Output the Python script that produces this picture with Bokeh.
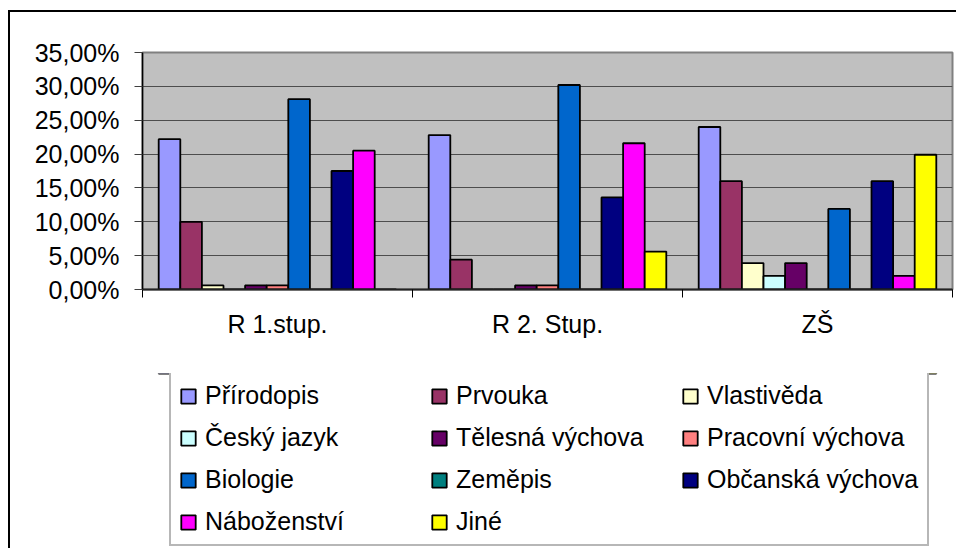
from bokeh.plotting import figure
from bokeh.layouts import column
from bokeh.models import (Range1d, FixedTicker, CustomJSTickFormatter,
                          Legend, LegendItem, ColumnDataSource, LinearAxis, Grid)
from bokeh.embed import file_html
from bokeh.resources import INLINE

# ---- data (percent) ----
categories = ["R 1.stup.", "R 2. Stup.", "ZŠ"]
series_names = ["Přírodopis", "Prvouka", "Vlastivěda", "Český jazyk", "Tělesná výchova",
                "Pracovní výchova", "Biologie", "Zeměpis", "Občanská výchova", "Náboženství", "Jiné"]
series_colors = ["#9999FF", "#993366", "#FFFFCC", "#CCFFFF", "#660066",
                 "#FF8080", "#0066CC", "#008080", "#000080", "#FF00FF", "#FFFF00"]
prirodopis = [22.2, 22.8, 24.0]
prvouka = [10.0, 4.4, 16.0]
vlastiveda = [0.6, 0.0, 3.9]
cesky_jazyk = [0.0, 0.0, 2.0]
telesna_vychova = [0.6, 0.6, 3.9]
pracovni_vychova = [0.6, 0.6, 0.0]
biologie = [28.1, 30.2, 11.9]
zemepis = [0.0, 0.0, 0.0]
obcanska_vychova = [17.5, 13.6, 16.0]
nabozenstvi = [20.5, 21.6, 2.0]
jine = [0.0, 5.6, 19.9]
series_values = [prirodopis, prvouka, vlastiveda, cesky_jazyk, telesna_vychova,
                 pracovni_vychova, biologie, zemepis, obcanska_vychova, nabozenstvi, jine]
y_ticks = [0, 5, 10, 15, 20, 25, 30, 35]

FONT = "Liberation Sans"
FS = "25px"

ncat = len(categories)
nser = len(series_names)
gap = 1.5  # Excel gap width 150%
bw = 1.0 / (nser + gap)

# ---------------- chart ----------------
p = figure(width=946, height=361, output_backend="svg", toolbar_location=None,
           x_range=Range1d(0, ncat), y_range=Range1d(y_ticks[0], y_ticks[-1]),
           x_axis_type=None, y_axis_type=None,
           min_border_left=132, min_border_right=4, min_border_top=40, min_border_bottom=84,
           background_fill_color="#C0C0C0", border_fill_color="white")
p.outline_line_color = "#808080"
p.outline_line_width = 2

yax = LinearAxis(ticker=FixedTicker(ticks=y_ticks, minor_ticks=[]),
                 formatter=CustomJSTickFormatter(code="return tick.toFixed(2).replace('.', ',') + '%';"))
yax.axis_line_color = "black"
yax.axis_line_width = 1.5
yax.major_tick_line_color = "#404040"
yax.major_tick_out = 8
yax.major_tick_in = 0
yax.minor_tick_line_color = None
yax.major_label_standoff = 15
yax.major_label_text_font = FONT
yax.major_label_text_font_size = FS
yax.major_label_text_color = "black"
p.add_layout(yax, "left")
p.add_layout(Grid(dimension=1, ticker=yax.ticker, grid_line_color="#4d4d4d", grid_line_width=1.2))

# x axis: labels at group centres, tick marks at group boundaries
centers = [i + 0.5 for i in range(ncat)]
xax = LinearAxis(ticker=FixedTicker(ticks=centers, minor_ticks=list(range(ncat + 1))),
                 major_label_overrides={c: lab for c, lab in zip(centers, categories)})
xax.axis_line_color = "#222222"
xax.axis_line_width = 2
xax.major_tick_line_color = None
xax.major_tick_out = 8
xax.minor_tick_out = 8
xax.minor_tick_in = 0
xax.minor_tick_line_color = "black"
xax.minor_tick_line_width = 1
xax.major_label_standoff = 12
xax.major_label_text_font = FONT
xax.major_label_text_font_size = FS
xax.major_label_text_color = "black"
p.add_layout(xax, "below")

# ---------------- legend panel ----------------
q = figure(width=946, height=175, output_backend="svg", toolbar_location=None,
           x_range=Range1d(0, ncat), y_range=Range1d(-2, -1),
           x_axis_type=None, y_axis_type=None,
           min_border_left=132, min_border_right=4, min_border_top=0, min_border_bottom=0,
           background_fill_color="white", border_fill_color="white")
q.outline_line_color = None

items = []
for i, (name, col, vals) in enumerate(zip(series_names, series_colors, series_values)):
    off = (i - (nser - 1) / 2) * bw
    xs = [j + 0.5 + off for j in range(ncat)]
    src = ColumnDataSource(dict(x=xs, top=vals))
    p.vbar(x="x", top="top", bottom=0, width=bw, source=src,
           fill_color=col, line_color="black", line_width=1.8)
    # same bars in the legend panel (outside its visible range) just to key the legend
    r = q.vbar(x="x", top="top", bottom=0, width=bw, source=src,
               fill_color=col, line_color="black", line_width=1.8)
    items.append(LegendItem(label=name, renderers=[r]))

legend = Legend(items=items, location=(27, 2), orientation="horizontal", ncols=3,
                glyph_width=18, glyph_height=18, label_standoff=8, label_width=212,
                label_height=29, spacing=13, padding=8, margin=0,
                border_line_color="#707070", border_line_width=2,
                background_fill_color="white", background_fill_alpha=1.0,
                label_text_font=FONT, label_text_font_size=FS, label_text_color="black")
q.add_layout(legend, "center")

layout = column(p, q, spacing=0)
layout.styles = {"margin-left": "8px", "margin-top": "10px",
                 "border-left": "2px solid black", "border-top": "2px solid black"}

open("out.html", "w").write(file_html(layout, INLINE))
